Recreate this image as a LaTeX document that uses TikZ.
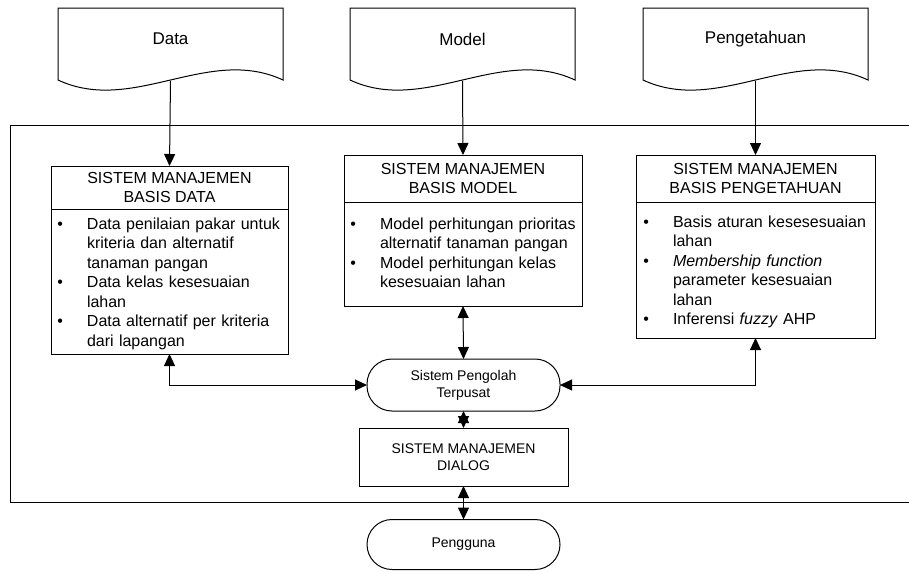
\documentclass[tikz,border=0pt]{standalone}
\usepackage{fontspec}
\setmainfont{Liberation Sans}
\usetikzlibrary{arrows.meta}

% bullet item with a hanging bullet left of the text column
\newcommand{\bitem}[1]{\leavevmode\llap{\textbullet\hspace{24pt}}#1\par}

\tikzset{
  every node/.style={inner sep=0pt, outer sep=0pt},
  lw/.style={line width=1pt},
  hdrbox/.style={draw, lw, align=center, anchor=north west,
    font=\fontsize{16}{19.3}\selectfont},
  bodybox/.style={draw, lw, anchor=north},
  itemlist/.style={anchor=north west, text width=205pt, align=left,
    font=\fontsize{16}{19.5}\selectfont},
  terminal/.style={draw, lw, rounded corners=25pt, align=center,
    minimum width=193pt, font=\fontsize{14}{17}\selectfont},
  plainbox/.style={draw, lw, align=center, font=\fontsize{14}{17.5}\selectfont},
  doclabel/.style={font=\fontsize{17}{20}\selectfont},
  tip/.tip={Triangle[width=11pt 0, length=12pt 0]},
  arr/.style={lw, -tip},
  biarr/.style={lw, tip-tip},
  pics/docsheet/.style={code={
    \draw[lw] (-112.5,-31) -- (112.5,-31) -- (112.5,41)
      .. controls (37.5,6) and (-37.5,76) .. (-112.5,41) -- cycle;
  }}
}

\begin{document}
\begin{tikzpicture}[x=1pt, y=-1pt]
\useasboundingbox (0,0) rectangle (909,571);

% outer system frame (open on the right)
\draw[lw] (909,125) -- (10,125) -- (10,502) -- (909,502);

% source documents
\pic at (170.5,39) {docsheet};
\node[doclabel] (docdata) at (170.5,39) {Data};
\coordinate (docdata-out) at (170.5,81);

\pic at (462.5,39) {docsheet};
\node[doclabel] (docmodel) at (462.5,39) {Model};
\coordinate (docmodel-out) at (462.5,81);

\pic at (755.5,39) {docsheet};
\node[doclabel] (docknow) at (755.5,39) {Pengetahuan};
\coordinate (docknow-out) at (755.5,81);

% database management
\node[hdrbox, minimum width=237pt, minimum height=43pt] (dbh) at (51,166)
  {SISTEM MANAJEMEN\\BASIS DATA};
\node[bodybox, minimum width=237pt, minimum height=145pt] (dbb) at (dbh.south) {};
\node[itemlist] (dblist) at (87,217.8) {%
  \bitem{Data penilaian pakar untuk\newline kriteria dan alternatif\newline tanaman pangan}%
  \bitem{Data kelas kesesuaian\newline lahan}%
  \bitem{Data alternatif per kriteria\newline dari lapangan}};

% model base management
\node[hdrbox, minimum width=238pt, minimum height=47pt] (mbh) at (344,155)
  {SISTEM MANAJEMEN\\BASIS MODEL};
\node[bodybox, minimum width=238pt, minimum height=104pt] (mbb) at (mbh.south) {};
\node[itemlist] (mblist) at (380,217.8) {%
  \bitem{Model perhitungan prioritas\newline alternatif tanaman pangan}%
  \bitem{Model perhitungan kelas\newline kesesuaian lahan}};

% knowledge base management
\node[hdrbox, minimum width=239pt, minimum height=47pt] (kbh) at (636,155)
  {SISTEM MANAJEMEN\\BASIS PENGETAHUAN};
\node[bodybox, minimum width=239pt, minimum height=136pt] (kbb) at (kbh.south) {};
\node[itemlist] (kblist) at (673,215.8) {%
  \bitem{Basis aturan kesesesuaian\newline lahan}%
  \bitem{\textit{Membership function}\newline parameter kesesuaian\newline lahan}%
  \bitem{Inferensi \textit{fuzzy} AHP}};

% processing, dialog and user
\node[terminal, minimum height=52pt] (proc) at (463.5,385) {Sistem Pengolah\\Terpusat};
\node[plainbox, minimum width=209pt, minimum height=58pt] (dialog) at (463.5,457)
  {SISTEM MANAJEMEN\\DIALOG};
\node[terminal, minimum height=50pt] (user) at (463.5,544.5) {Pengguna};

% connectors
\draw[arr] (docdata-out) -- (dbh.north);
\draw[arr] (docmodel-out) -- (mbh.north);
\draw[arr] (docknow-out) -- (kbh.north);

\draw[biarr] (mbb.south) -- (proc.north);
\draw[biarr] (dbb.south) |- (proc.west);
\draw[biarr] (kbb.south) |- (proc.east);
\draw[biarr] (proc.south) -- (dialog.north);
\draw[biarr] (dialog.south) -- (user.north);
\end{tikzpicture}
\end{document}
